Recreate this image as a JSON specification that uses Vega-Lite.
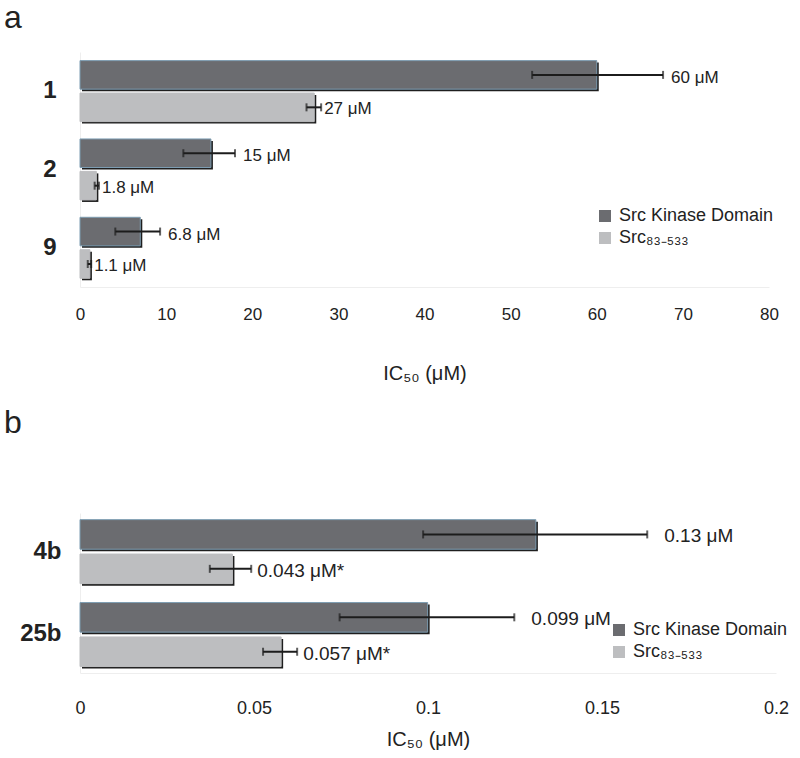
{
  "$schema": "https://vega.github.io/schema/vega-lite/v6.json",
  "background": "white",
  "padding": {"left": 4, "top": 2, "right": 10, "bottom": 5},
  "config": {"font": "Liberation Sans", "view": {"stroke": null}},
  "bounds": "flush",
  "spacing": 226,
  "resolve": {"scale": {"color": "independent", "stroke": "independent", "x": "independent", "y": "independent"}, "legend": {"color": "independent"}},
  "vconcat": [
    {
      "width": 689,
      "height": 235,
      "title": {"text": "a", "anchor": "start", "frame": "group", "dx": -76, "offset": -8, "baseline": "alphabetic", "fontSize": 32, "fontWeight": "normal", "color": "#222222"},
      "data": {"values": [
        {"compound": "1", "series": "Src Kinase Domain", "value": 60, "lo": 52.5, "hi": 67.7, "label": "60 μM"},
        {"compound": "1", "series": "Src₈₃₋₅₃₃", "value": 27.2, "lo": 26.3, "hi": 28.0, "label": "27 μM"},
        {"compound": "2", "series": "Src Kinase Domain", "value": 15.2, "lo": 12.0, "hi": 18.0, "label": "15 μM"},
        {"compound": "2", "series": "Src₈₃₋₅₃₃", "value": 1.9, "lo": 1.7, "hi": 2.2, "label": "1.8 μM"},
        {"compound": "9", "series": "Src Kinase Domain", "value": 7.0, "lo": 4.1, "hi": 9.3, "label": "6.8 μM"},
        {"compound": "9", "series": "Src₈₃₋₅₃₃", "value": 1.15, "lo": 0.9, "hi": 1.3, "label": "1.1 μM"}
      ]},
      "encoding": {
        "y": {"field": "compound", "type": "nominal", "sort": ["1", "2", "9"],
          "scale": {"paddingInner": 0.22, "paddingOuter": 0.11},
          "axis": {"title": null, "labelFontSize": 24, "labelFontWeight": "bold", "labelColor": "#222222", "ticks": false, "domainColor": "#eeeeee", "labelPadding": 24}}
      },
      "resolve": {"scale": {"yOffset": "independent"}},
      "layer": [
        {
          "mark": {"type": "bar", "color": "#1e1e1e", "xOffset": 2, "x2Offset": 2},
          "encoding": {
            "x": {"field": "value", "type": "quantitative", "title": "IC₅₀ (μM)", "scale": {"domain": [0, 80], "nice": false},
              "axis": {"values": [0, 10, 20, 30, 40, 50, 60, 70, 80], "format": "~g", "ticks": false, "grid": false, "labelFlush": false, "domainColor": "#eeeeee", "labelFontSize": 17, "labelPadding": 19, "labelColor": "#222222", "titleFontSize": 20, "titleFontWeight": "normal", "titleColor": "#222222", "titlePadding": 41}},
            "yOffset": {"field": "series", "type": "nominal", "scale": {"domain": ["Src Kinase Domain", "Src₈₃₋₅₃₃"], "range": [2, 63], "paddingInner": 0.12, "paddingOuter": 0}}
          }
        },
        {
          "mark": {"type": "bar", "strokeWidth": 1},
          "encoding": {
            "x": {"field": "value", "type": "quantitative", "title": "IC₅₀ (μM)", "scale": {"domain": [0, 80], "nice": false}},
            "yOffset": {"field": "series", "type": "nominal", "scale": {"domain": ["Src Kinase Domain", "Src₈₃₋₅₃₃"], "range": [0, 61], "paddingInner": 0.12, "paddingOuter": 0}},
            "color": {"field": "series", "type": "nominal", "scale": {"domain": ["Src Kinase Domain", "Src₈₃₋₅₃₃"], "range": ["#6b6c70", "#bdbec0"]},
              "legend": {"title": null, "orient": "none", "legendX": 516, "legendY": 155, "symbolType": "square", "symbolSize": 144, "symbolStrokeWidth": 0, "symbolOpacity": 1, "labelFontSize": 18, "labelColor": "#222222", "labelOffset": 5, "rowPadding": 4, "labelLimit": 300}},
            "stroke": {"field": "series", "type": "nominal", "scale": {"domain": ["Src Kinase Domain", "Src₈₃₋₅₃₃"], "range": ["#7d9db2", "#bdbec0"]}, "legend": null}
          }
        },
        {
          "mark": {"type": "rule", "color": "#1c1c1c", "strokeWidth": 2},
          "encoding": {
            "x": {"field": "lo", "type": "quantitative", "title": "IC₅₀ (μM)", "scale": {"domain": [0, 80], "nice": false}},
            "x2": {"field": "hi"},
            "yOffset": {"field": "series", "type": "nominal", "scale": {"domain": ["Src Kinase Domain", "Src₈₃₋₅₃₃"], "range": [0, 61], "paddingInner": 0.12, "paddingOuter": 0}}
          }
        },
        {
          "mark": {"type": "tick", "color": "#1c1c1c", "size": 8, "thickness": 2, "orient": "vertical"},
          "encoding": {
            "x": {"field": "lo", "type": "quantitative", "title": "IC₅₀ (μM)", "scale": {"domain": [0, 80], "nice": false}},
            "yOffset": {"field": "series", "type": "nominal", "scale": {"domain": ["Src Kinase Domain", "Src₈₃₋₅₃₃"], "range": [0, 61], "paddingInner": 0.12, "paddingOuter": 0}}
          }
        },
        {
          "mark": {"type": "tick", "color": "#1c1c1c", "size": 8, "thickness": 2, "orient": "vertical"},
          "encoding": {
            "x": {"field": "hi", "type": "quantitative", "title": "IC₅₀ (μM)", "scale": {"domain": [0, 80], "nice": false}},
            "yOffset": {"field": "series", "type": "nominal", "scale": {"domain": ["Src Kinase Domain", "Src₈₃₋₅₃₃"], "range": [0, 61], "paddingInner": 0.12, "paddingOuter": 0}}
          }
        },
        {
          "transform": [{"filter": "datum.series === 'Src Kinase Domain'"}],
          "mark": {"type": "text", "align": "left", "baseline": "middle", "dx": 8, "dy": 3, "fontSize": 17, "color": "#222222"},
          "encoding": {
            "x": {"field": "hi", "type": "quantitative", "title": "IC₅₀ (μM)", "scale": {"domain": [0, 80], "nice": false}},
            "yOffset": {"field": "series", "type": "nominal", "scale": {"type": "point", "domain": ["Src Kinase Domain", "Src₈₃₋₅₃₃"], "range": [0, 61], "padding": 0.44}},
            "text": {"field": "label"}
          }
        },
        {
          "transform": [{"filter": "datum.series !== 'Src Kinase Domain'"}],
          "mark": {"type": "text", "align": "left", "baseline": "middle", "dx": 3, "dy": 2, "fontSize": 17, "color": "#222222"},
          "encoding": {
            "x": {"field": "hi", "type": "quantitative", "title": "IC₅₀ (μM)", "scale": {"domain": [0, 80], "nice": false}},
            "yOffset": {"field": "series", "type": "nominal", "scale": {"type": "point", "domain": ["Src Kinase Domain", "Src₈₃₋₅₃₃"], "range": [0, 61], "padding": 0.44}},
            "text": {"field": "label"}
          }
        }
      ]
    },
    {
      "width": 696,
      "height": 160,
      "title": {"text": "b", "anchor": "start", "frame": "group", "dx": -76, "offset": 48, "baseline": "alphabetic", "fontSize": 32, "fontWeight": "normal", "color": "#222222"},
      "data": {"values": [
        {"compound": "4b", "series": "Src Kinase Domain", "value": 0.131, "lo": 0.0986, "hi": 0.163, "label": "0.13 μM"},
        {"compound": "4b", "series": "Src₈₃₋₅₃₃", "value": 0.0438, "lo": 0.0373, "hi": 0.0492, "label": "0.043 μM*"},
        {"compound": "25b", "series": "Src Kinase Domain", "value": 0.0999, "lo": 0.0746, "hi": 0.1248, "label": "0.099 μM"},
        {"compound": "25b", "series": "Src₈₃₋₅₃₃", "value": 0.0578, "lo": 0.0526, "hi": 0.0624, "label": "0.057 μM*"}
      ]},
      "encoding": {
        "y": {"field": "compound", "type": "nominal", "sort": ["4b", "25b"],
          "scale": {"paddingInner": 0.23, "paddingOuter": 0.08},
          "axis": {"title": null, "labelFontSize": 24, "labelFontWeight": "bold", "labelColor": "#222222", "ticks": false, "domainColor": "#eeeeee", "labelPadding": 19}}
      },
      "resolve": {"scale": {"yOffset": "independent"}},
      "layer": [
        {
          "mark": {"type": "bar", "color": "#1e1e1e", "xOffset": 2, "x2Offset": 2},
          "encoding": {
            "x": {"field": "value", "type": "quantitative", "title": "IC₅₀ (μM)", "scale": {"domain": [0, 0.2], "nice": false},
              "axis": {"values": [0, 0.05, 0.1, 0.15, 0.2], "format": "~g", "ticks": false, "grid": false, "labelFlush": false, "domainColor": "#eeeeee", "labelFontSize": 18, "labelPadding": 26, "labelColor": "#222222", "titleFontSize": 20, "titleFontWeight": "normal", "titleColor": "#222222", "titlePadding": 12}},
            "yOffset": {"field": "series", "type": "nominal", "scale": {"domain": ["Src Kinase Domain", "Src₈₃₋₅₃₃"], "range": [2, 66], "paddingInner": 0.14, "paddingOuter": 0}}
          }
        },
        {
          "mark": {"type": "bar", "strokeWidth": 1},
          "encoding": {
            "x": {"field": "value", "type": "quantitative", "title": "IC₅₀ (μM)", "scale": {"domain": [0, 0.2], "nice": false}},
            "yOffset": {"field": "series", "type": "nominal", "scale": {"domain": ["Src Kinase Domain", "Src₈₃₋₅₃₃"], "range": [0, 64], "paddingInner": 0.14, "paddingOuter": 0}},
            "color": {"field": "series", "type": "nominal", "scale": {"domain": ["Src Kinase Domain", "Src₈₃₋₅₃₃"], "range": ["#6b6c70", "#bdbec0"]},
              "legend": {"title": null, "orient": "none", "legendX": 530, "legendY": 108, "symbolType": "square", "symbolSize": 144, "symbolStrokeWidth": 0, "symbolOpacity": 1, "labelFontSize": 18, "labelColor": "#222222", "labelOffset": 5, "rowPadding": 4, "labelLimit": 300}},
            "stroke": {"field": "series", "type": "nominal", "scale": {"domain": ["Src Kinase Domain", "Src₈₃₋₅₃₃"], "range": ["#7d9db2", "#bdbec0"]}, "legend": null}
          }
        },
        {
          "mark": {"type": "rule", "color": "#1c1c1c", "strokeWidth": 2},
          "encoding": {
            "x": {"field": "lo", "type": "quantitative", "title": "IC₅₀ (μM)", "scale": {"domain": [0, 0.2], "nice": false}},
            "x2": {"field": "hi"},
            "yOffset": {"field": "series", "type": "nominal", "scale": {"domain": ["Src Kinase Domain", "Src₈₃₋₅₃₃"], "range": [0, 64], "paddingInner": 0.14, "paddingOuter": 0}}
          }
        },
        {
          "mark": {"type": "tick", "color": "#1c1c1c", "size": 8, "thickness": 2, "orient": "vertical"},
          "encoding": {
            "x": {"field": "lo", "type": "quantitative", "title": "IC₅₀ (μM)", "scale": {"domain": [0, 0.2], "nice": false}},
            "yOffset": {"field": "series", "type": "nominal", "scale": {"domain": ["Src Kinase Domain", "Src₈₃₋₅₃₃"], "range": [0, 64], "paddingInner": 0.14, "paddingOuter": 0}}
          }
        },
        {
          "mark": {"type": "tick", "color": "#1c1c1c", "size": 8, "thickness": 2, "orient": "vertical"},
          "encoding": {
            "x": {"field": "hi", "type": "quantitative", "title": "IC₅₀ (μM)", "scale": {"domain": [0, 0.2], "nice": false}},
            "yOffset": {"field": "series", "type": "nominal", "scale": {"domain": ["Src Kinase Domain", "Src₈₃₋₅₃₃"], "range": [0, 64], "paddingInner": 0.14, "paddingOuter": 0}}
          }
        },
        {
          "transform": [{"filter": "datum.series === 'Src Kinase Domain'"}],
          "mark": {"type": "text", "align": "left", "baseline": "middle", "dx": 17, "dy": 2, "fontSize": 19, "color": "#222222"},
          "encoding": {
            "x": {"field": "hi", "type": "quantitative", "title": "IC₅₀ (μM)", "scale": {"domain": [0, 0.2], "nice": false}},
            "yOffset": {"field": "series", "type": "nominal", "scale": {"type": "point", "domain": ["Src Kinase Domain", "Src₈₃₋₅₃₃"], "range": [0, 64], "padding": 0.43}},
            "text": {"field": "label"}
          }
        },
        {
          "transform": [{"filter": "datum.series !== 'Src Kinase Domain'"}],
          "mark": {"type": "text", "align": "left", "baseline": "middle", "dx": 6, "dy": 2, "fontSize": 19, "color": "#222222"},
          "encoding": {
            "x": {"field": "hi", "type": "quantitative", "title": "IC₅₀ (μM)", "scale": {"domain": [0, 0.2], "nice": false}},
            "yOffset": {"field": "series", "type": "nominal", "scale": {"type": "point", "domain": ["Src Kinase Domain", "Src₈₃₋₅₃₃"], "range": [0, 64], "padding": 0.43}},
            "text": {"field": "label"}
          }
        }
      ]
    }
  ]
}
